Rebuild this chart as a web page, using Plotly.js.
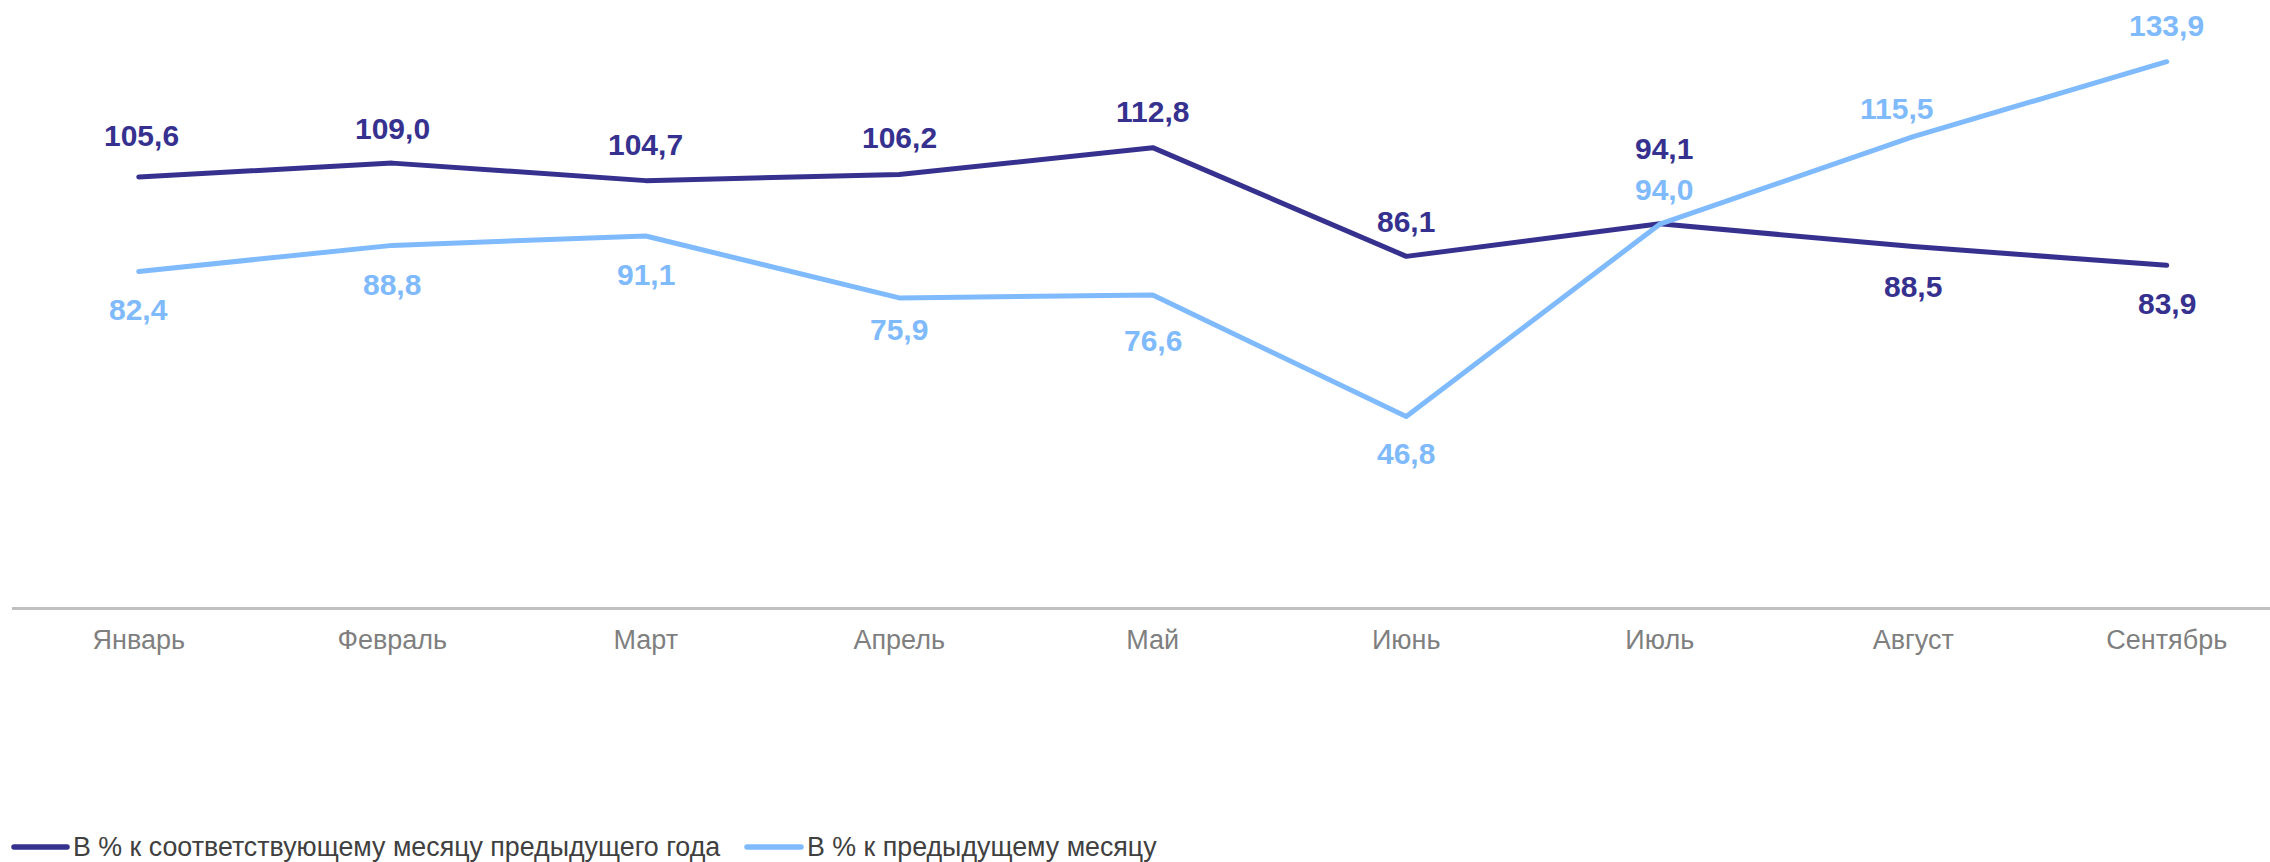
<!DOCTYPE html>
<html>
<head>
<meta charset="utf-8">
<script src="https://cdn.plot.ly/plotly-3.0.1.min.js"></script>
<style>
  html, body { margin: 0; padding: 0; background: #ffffff; }
  #chart { width: 2270px; height: 862px; }
  .scatterlayer .js-line { stroke-linecap: round; stroke-linejoin: round; }
  .shapelayer path { stroke-linecap: round; }
</style>
</head>
<body>
<div id="chart"></div>
<script>
// ---- data ----
const months = ['Январь', 'Февраль', 'Март', 'Апрель', 'Май', 'Июнь', 'Июль', 'Август', 'Сентябрь'];
const yoyValues = [105.6, 109.0, 104.7, 106.2, 112.8, 86.1, 94.1, 88.5, 83.9];
const momValues = [82.4, 88.8, 91.1, 75.9, 76.6, 46.8, 94.0, 115.5, 133.9];
const seriesNames = ['В % к соответствующему месяцу предыдущего года', 'В % к предыдущему месяцу'];

// ---- styling ----
const W = 2270, H = 862;
const M = { l: 12, r: 0, t: 0, b: 255 };
const PW = W - M.l - M.r, PH = H - M.t - M.b;
const pxPerUnit = 4.0723;
const pxPerCat = 253.5;
const colorDark = '#36318f';
const colorLight = '#7fbafd';
const FONT = 'Liberation Sans, Arial, sans-serif';

// label offsets in px (positive = up)
const yoyShiftY = [41, 35, 36, 37, 36, 35, 75, -40, -38];
const yoyShiftX = [3, 0, 0, 0, 0, 0, 4, 0, 0];
const momShiftY = [-38, -39, -38, -32, -45, -37, 35, 28, 36];
const momShiftX = [0, 0, 0, 0, 0, 0, 4, -17, 0];

const fmt = v => v.toFixed(1).replace('.', ',');
const px2x = px => (px - M.l) / PW;
const py2y = py => (M.t + PH - py) / PH;

const traces = [
  { x: months, y: yoyValues, name: seriesNames[0], type: 'scatter', mode: 'lines',
    line: { color: colorDark, width: 5 }, hoverinfo: 'skip' },
  { x: months, y: momValues, name: seriesNames[1], type: 'scatter', mode: 'lines',
    line: { color: colorLight, width: 5 }, hoverinfo: 'skip' }
];

const annotations = [];
months.forEach((m, i) => {
  annotations.push({ x: m, y: yoyValues[i], xref: 'x', yref: 'y', text: fmt(yoyValues[i]),
    showarrow: false, xanchor: 'center', yanchor: 'middle', yshift: yoyShiftY[i], xshift: yoyShiftX[i],
    font: { family: FONT, size: 30, color: colorDark, weight: 'bold' } });
  annotations.push({ x: m, y: momValues[i], xref: 'x', yref: 'y', text: fmt(momValues[i]),
    showarrow: false, xanchor: 'center', yanchor: 'middle', yshift: momShiftY[i], xshift: momShiftX[i],
    font: { family: FONT, size: 30, color: colorLight, weight: 'bold' } });
});

// manual legend
const legendY = 847;
const legendItems = [
  { x0: 14, x1: 67, tx: 71, color: colorDark, text: seriesNames[0] },
  { x0: 747, x1: 801, tx: 805, color: colorLight, text: seriesNames[1] }
];
const shapes = [];
legendItems.forEach(it => {
  shapes.push({ type: 'line', xref: 'paper', yref: 'paper',
    x0: px2x(it.x0), x1: px2x(it.x1), y0: py2y(legendY), y1: py2y(legendY),
    line: { color: it.color, width: 5.5 } });
  annotations.push({ xref: 'paper', yref: 'paper', x: px2x(it.tx), y: py2y(legendY),
    text: it.text, showarrow: false, xanchor: 'left', yanchor: 'middle',
    font: { family: FONT, size: 26.8, color: '#404040' } });
});

const layout = {
  width: W, height: H,
  margin: M,
  paper_bgcolor: '#ffffff', plot_bgcolor: '#ffffff',
  showlegend: false,
  font: { family: FONT },
  xaxis: {
    type: 'category',
    range: [-0.5, -0.5 + PW / pxPerCat],
    showgrid: false, zeroline: false,
    showline: true, linecolor: '#c0c0c0', linewidth: 2.5,
    ticks: '', automargin: false,
    tickfont: { family: FONT, size: 27, color: '#7f7f7f' },
    ticklabelstandoff: 7,
    fixedrange: true
  },
  yaxis: {
    range: [0, PH / pxPerUnit],
    showgrid: false, zeroline: false, showline: false,
    showticklabels: false, ticks: '', automargin: false,
    fixedrange: true
  },
  annotations: annotations,
  shapes: shapes
};

Plotly.newPlot('chart', traces, layout, { displayModeBar: false, staticPlot: true });
</script>
</body>
</html>
